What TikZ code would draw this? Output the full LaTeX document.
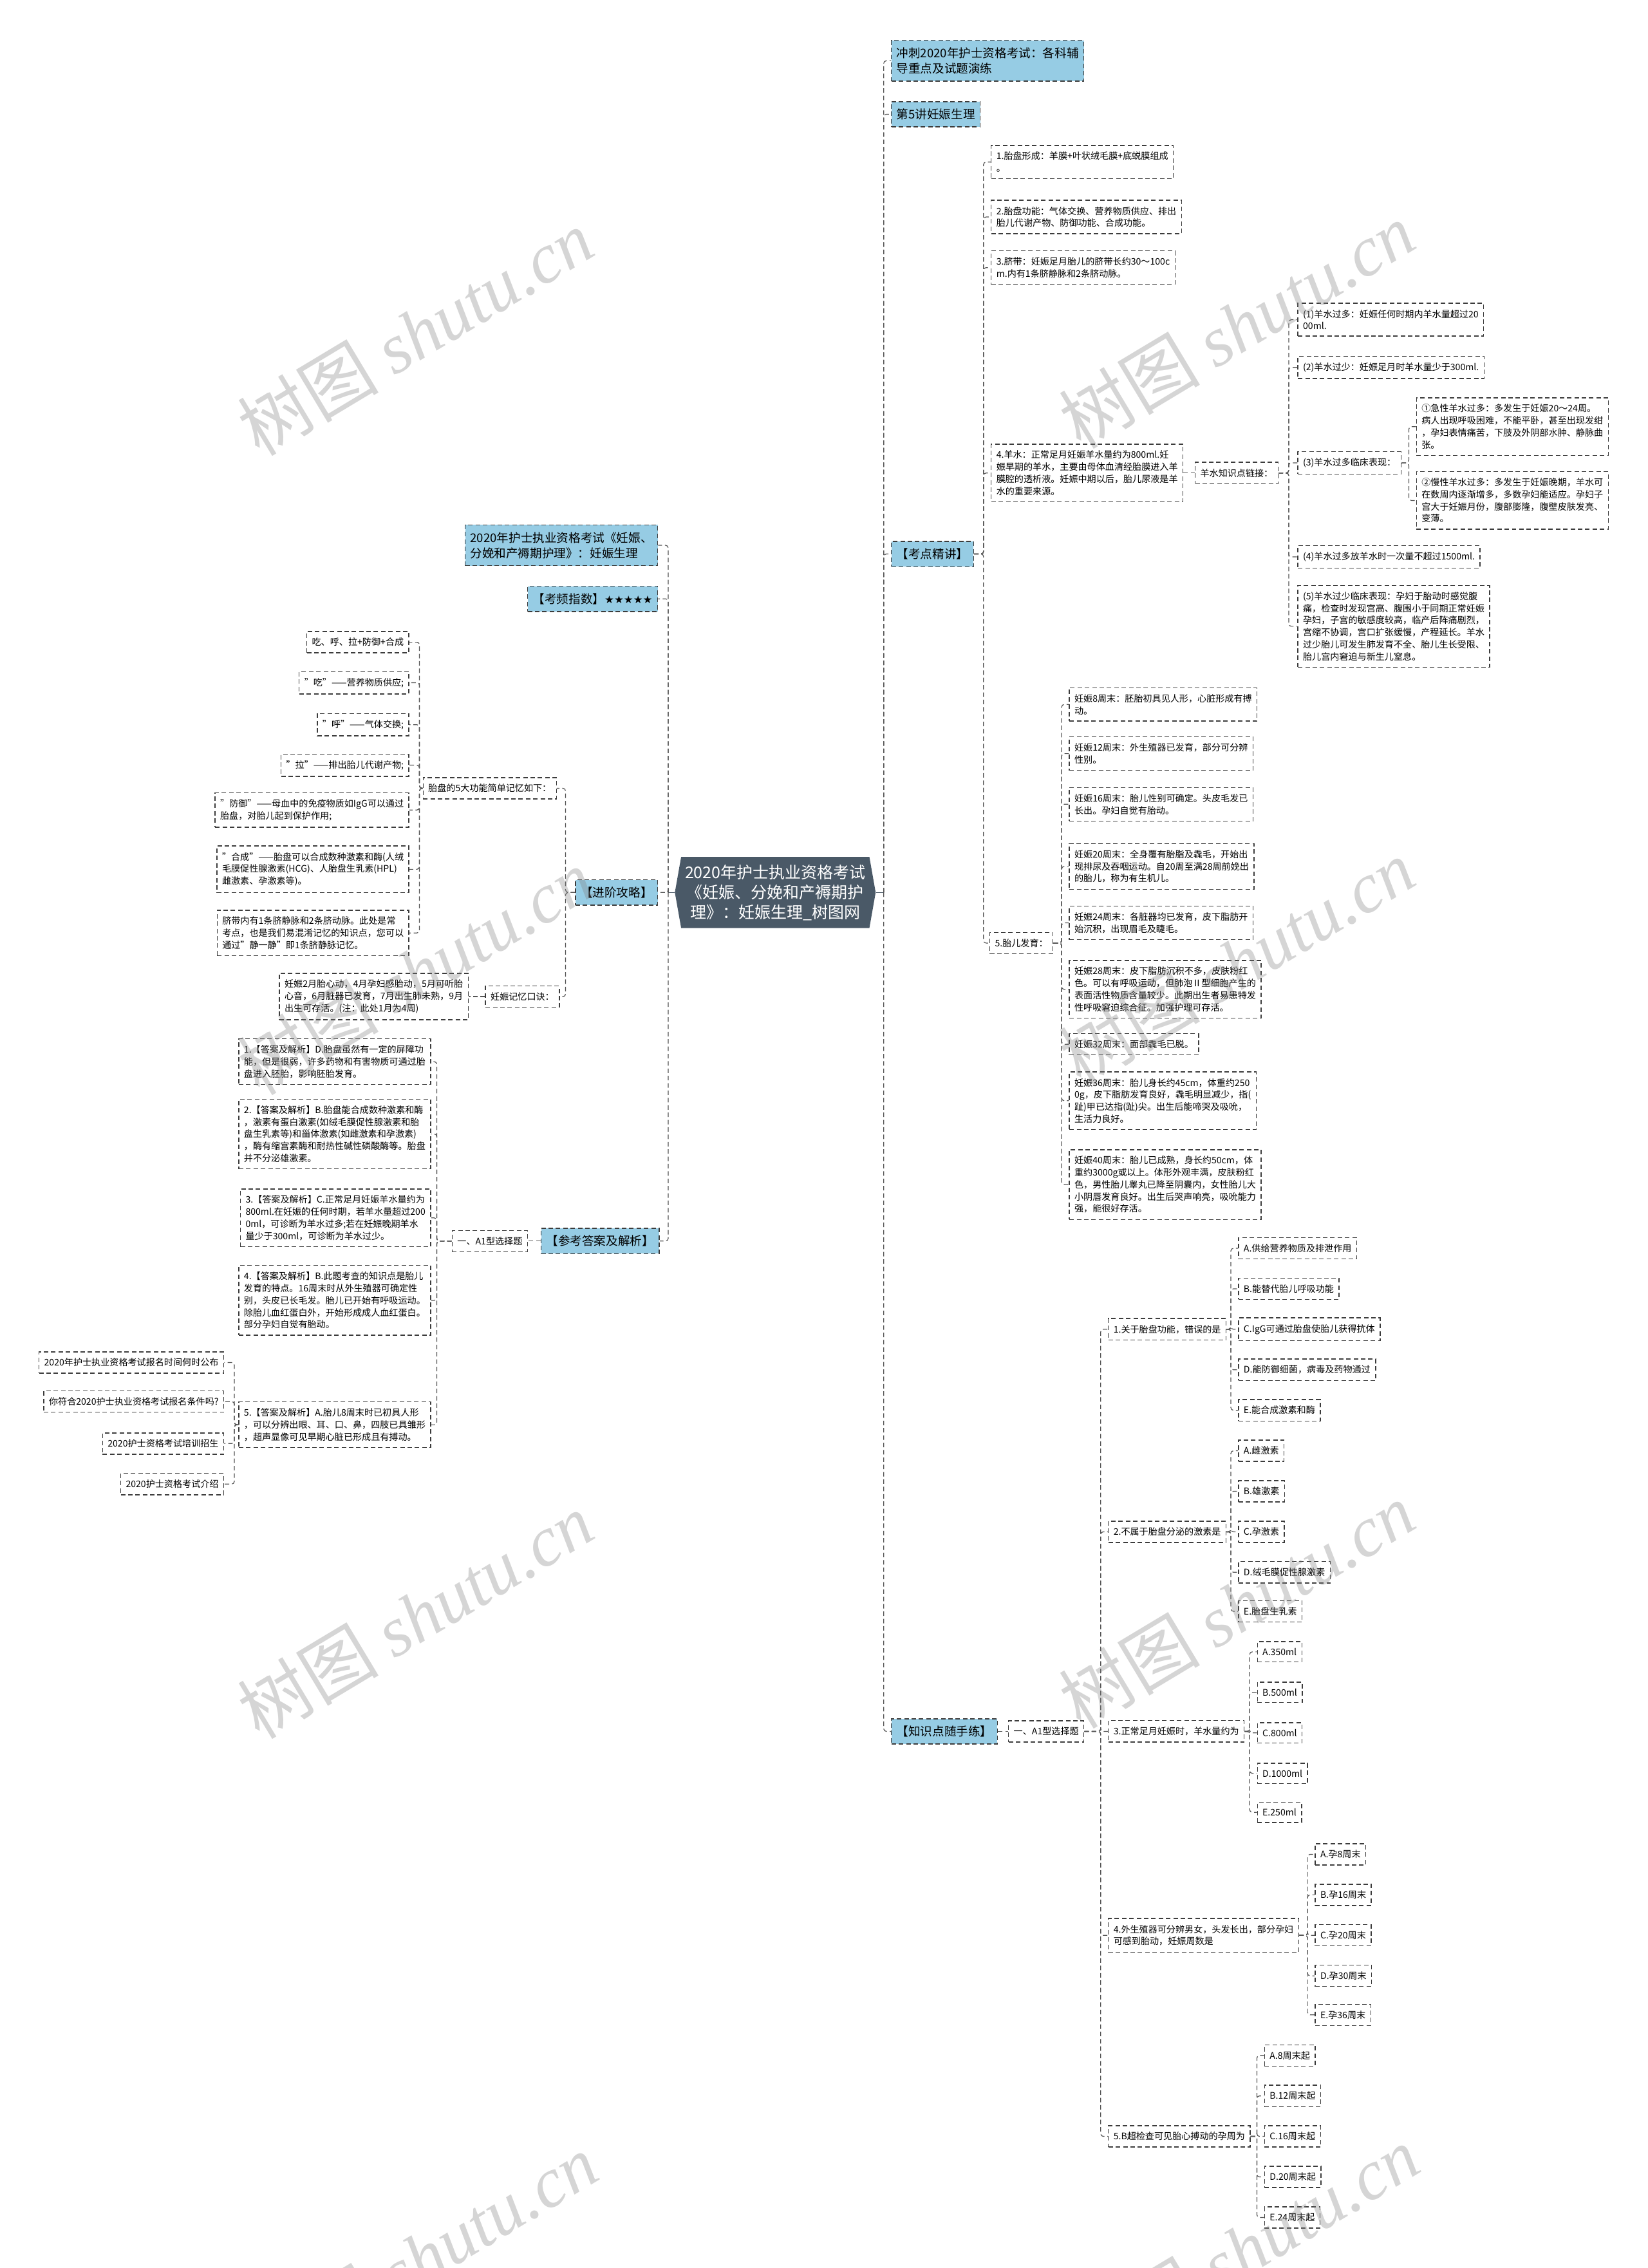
\documentclass[tikz,border=0pt]{standalone}
\usepackage{fontspec}
\setmainfont{Noto Sans CJK SC}
\newfontfamily\wmfont{Liberation Serif}
\newfontfamily\starfont{DejaVu Sans}
\usetikzlibrary{shapes.symbols}
\definecolor{bluefill}{RGB}{150,204,228}
\definecolor{darkc}{RGB}{74,89,103}
\definecolor{edgec}{RGB}{85,85,85}
\definecolor{boxc}{RGB}{60,60,60}
\newcommand\dq{\symbol{34}}
\tikzset{
  base/.style={draw=boxc, line width=0.7pt, dash pattern=on 3.5pt off 2.2pt, fill=white,
    inner xsep=4pt, inner ysep=5pt, align=left, font=\fontsize{7.05}{9.4}\selectfont},
  bl/.style={base, fill=bluefill, inner ysep=5.5pt, font=\fontsize{9.3}{12}\selectfont},
  conn/.style={draw=edgec, line width=0.6pt, dash pattern=on 3.5pt off 2.2pt, rounded corners=2pt},
  rt/.style={anchor=west}, lf/.style={anchor=east},
  wm/.style={rotate=31, text=gray, opacity=0.33, font=\fontsize{55}{58}\selectfont}
}
\begin{document}
\begin{tikzpicture}[x=1.1238pt, y=-1.1238pt]
\useasboundingbox (0,0) rectangle (1139,1568);
\fill[white] (0,0) rectangle (1139,1568);
% trunk coordinates
\coordinate (tR) at (611,0);
\coordinate (tL) at (462,0);
\coordinate (tK) at (680,0);
\coordinate (tY) at (891,0);
\coordinate (tY3) at (974,0);
\coordinate (tG) at (734,0);
\coordinate (tQ) at (761,0);
\coordinate (tQ1) at (851,0);
\coordinate (tQ2) at (851,0);
\coordinate (tQ3) at (864,0);
\coordinate (tQ4) at (904,0);
\coordinate (tQ5) at (869,0);
\coordinate (tP) at (391,0);
\coordinate (tP0) at (290,0);
\coordinate (tA) at (302,0);
\coordinate (tA5) at (162,0);

% center
\node[shape=signal, signal to=west and east, signal pointer angle=160, fill=darkc, text=white,
  font=\fontsize{12.5}{15.5}\selectfont, align=center, inner xsep=3pt, inner ysep=6pt]
  (C) at (536,617) {2020年护士执业资格考试\\《妊娠、分娩和产褥期护\\理》：妊娠生理\_树图网};

% ---------- right side ----------
\node[bl, rt] (R1) at (616,42) {冲刺2020年护士资格考试：各科辅\\导重点及试题演练};
\node[bl, rt] (R2) at (616,79) {第5讲妊娠生理};
\node[bl, rt] (R3) at (616,383) {【考点精讲】};
\node[bl, rt] (R4) at (616,1197) {【知识点随手练】};

\node[base, rt] (K1) at (685,112) {1.胎盘形成：羊膜+叶状绒毛膜+底蜕膜组成\\。};
\node[base, rt] (K2) at (685,150) {2.胎盘功能：气体交换、营养物质供应、排出\\胎儿代谢产物、防御功能、合成功能。};
\node[base, rt] (K3) at (685,185) {3.脐带：妊娠足月胎儿的脐带长约30～100c\\m.内有1条脐静脉和2条脐动脉。};
\node[base, rt] (K4) at (685,327) {4.羊水：正常足月妊娠羊水量约为800ml.妊\\娠早期的羊水，主要由母体血清经胎膜进入羊\\膜腔的透析液。妊娠中期以后，胎儿尿液是羊\\水的重要来源。};
\node[base, rt] (K5) at (684,652) {5.胎儿发育：};

\node[base, rt] (Y0) at (826,327) {羊水知识点链接：};
\node[base, rt] (Y1) at (897,221) {(1)羊水过多：妊娠任何时期内羊水量超过20\\00ml.};
\node[base, rt] (Y2) at (897,254) {(2)羊水过少：妊娠足月时羊水量少于300ml.};
\node[base, rt] (Y3) at (897,320) {(3)羊水过多临床表现：};
\node[base, rt] (Y3a) at (979,295) {①急性羊水过多：多发生于妊娠20～24周。\\病人出现呼吸困难，不能平卧，甚至出现发绀\\，孕妇表情痛苦，下肢及外阴部水肿、静脉曲\\张。};
\node[base, rt] (Y3b) at (979,346) {②慢性羊水过多：多发生于妊娠晚期，羊水可\\在数周内逐渐增多，多数孕妇能适应。孕妇子\\宫大于妊娠月份，腹部膨隆，腹壁皮肤发亮、\\变薄。};
\node[base, rt] (Y4) at (897,385) {(4)羊水过多放羊水时一次量不超过1500ml.};
\node[base, rt] (Y5) at (897,433) {(5)羊水过少临床表现：孕妇于胎动时感觉腹\\痛，检查时发现宫高、腹围小于同期正常妊娠\\孕妇，子宫的敏感度较高，临产后阵痛剧烈，\\宫缩不协调，宫口扩张缓慢，产程延长。羊水\\过少胎儿可发生肺发育不全、胎儿生长受限、\\胎儿宫内窘迫与新生儿窒息。};

\node[base, rt] (G1) at (739,487) {妊娠8周末：胚胎初具见人形，心脏形成有搏\\动。};
\node[base, rt] (G2) at (739,521) {妊娠12周末：外生殖器已发育，部分可分辨\\性别。};
\node[base, rt] (G3) at (739,556) {妊娠16周末：胎儿性别可确定。头皮毛发已\\长出。孕妇自觉有胎动。};
\node[base, rt] (G4) at (739,599) {妊娠20周末：全身覆有胎脂及毳毛，开始出\\现排尿及吞咽运动。自20周至满28周前娩出\\的胎儿，称为有生机儿。};
\node[base, rt] (G5) at (739,638) {妊娠24周末：各脏器均已发育，皮下脂肪开\\始沉积，出现眉毛及睫毛。};
\node[base, rt] (G6) at (739,684) {妊娠28周末：皮下脂肪沉积不多，皮肤粉红\\色。可以有呼吸运动，但肺泡Ⅱ型细胞产生的\\表面活性物质含量较少。此期出生者易患特发\\性呼吸窘迫综合征。加强护理可存活。};
\node[base, rt] (G7) at (739,722) {妊娠32周末：面部毳毛已脱。};
\node[base, rt] (G8) at (739,761) {妊娠36周末：胎儿身长约45cm，体重约250\\0g，皮下脂肪发育良好，毳毛明显减少，指(\\趾)甲已达指(趾)尖。出生后能啼哭及吸吮，\\生活力良好。};
\node[base, rt] (G9) at (739,819) {妊娠40周末：胎儿已成熟，身长约50cm，体\\重约3000g或以上。体形外观丰满，皮肤粉红\\色，男性胎儿睾丸已降至阴囊内，女性胎儿大\\小阴唇发育良好。出生后哭声响亮，吸吮能力\\强，能很好存活。};

\node[base, rt] (AR) at (697,1197) {一、A1型选择题};
\node[base, rt] (Q1) at (766,919) {1.关于胎盘功能，错误的是};
\node[base, rt] (Q2) at (766,1059) {2.不属于胎盘分泌的激素是};
\node[base, rt] (Q3) at (766,1197) {3.正常足月妊娠时，羊水量约为};
\node[base, rt] (Q4) at (766,1338) {4.外生殖器可分辨男女，头发长出，部分孕妇\\可感到胎动，妊娠周数是};
\node[base, rt] (Q5) at (766,1477) {5.B超检查可见胎心搏动的孕周为};

\node[base, rt] (Q1a) at (856,863) {A.供给营养物质及排泄作用};
\node[base, rt] (Q1b) at (856,891) {B.能替代胎儿呼吸功能};
\node[base, rt] (Q1c) at (856,919) {C.IgG可通过胎盘使胎儿获得抗体};
\node[base, rt] (Q1d) at (856,947) {D.能防御细菌，病毒及药物通过};
\node[base, rt] (Q1e) at (856,975) {E.能合成激素和酶};

\node[base, rt] (Q2a) at (856,1003) {A.雌激素};
\node[base, rt] (Q2b) at (856,1031) {B.雄激素};
\node[base, rt] (Q2c) at (856,1059) {C.孕激素};
\node[base, rt] (Q2d) at (856,1087) {D.绒毛膜促性腺激素};
\node[base, rt] (Q2e) at (856,1114) {E.胎盘生乳素};

\node[base, rt] (Q3a) at (869,1142) {A.350ml};
\node[base, rt] (Q3b) at (869,1170) {B.500ml};
\node[base, rt] (Q3c) at (869,1198) {C.800ml};
\node[base, rt] (Q3d) at (869,1226) {D.1000ml};
\node[base, rt] (Q3e) at (869,1253) {E.250ml};

\node[base, rt] (Q4a) at (909,1282) {A.孕8周末};
\node[base, rt] (Q4b) at (909,1310) {B.孕16周末};
\node[base, rt] (Q4c) at (909,1338) {C.孕20周末};
\node[base, rt] (Q4d) at (909,1366) {D.孕30周末};
\node[base, rt] (Q4e) at (909,1393) {E.孕36周末};

\node[base, rt] (Q5a) at (874,1421) {A.8周末起};
\node[base, rt] (Q5b) at (874,1449) {B.12周末起};
\node[base, rt] (Q5c) at (874,1477) {C.16周末起};
\node[base, rt] (Q5d) at (874,1505) {D.20周末起};
\node[base, rt] (Q5e) at (874,1533) {E.24周末起};

% ---------- left side ----------
\node[bl, lf] (L1) at (455,377) {2020年护士执业资格考试《妊娠、\\分娩和产褥期护理》：妊娠生理};
\node[bl, lf] (L2) at (455,414) {【考频指数】{\starfont\fontsize{8.3}{10}\selectfont ★★★★★}};
\node[bl, lf] (L3) at (455,617) {【进阶攻略】};
\node[bl, lf] (L4) at (456,858) {【参考答案及解析】};

\node[base, lf] (P0) at (385,545) {胎盘的5大功能简单记忆如下：};
\node[base, lf] (P1) at (283,444) {吃、呼、拉+防御+合成};
\node[base, lf] (P2) at (283,472) {\dq 吃\dq——营养物质供应;};
\node[base, lf] (P3) at (283,501) {\dq 呼\dq——气体交换;};
\node[base, lf] (P4) at (283,529) {\dq 拉\dq——排出胎儿代谢产物;};
\node[base, lf] (P5) at (283,560) {\dq 防御\dq——母血中的免疫物质如IgG可以通过\\胎盘，对胎儿起到保护作用;};
\node[base, lf] (P6) at (283,601) {\dq 合成\dq——胎盘可以合成数种激素和酶(人绒\\毛膜促性腺激素(HCG)、人胎盘生乳素(HPL)\\雌激素、孕激素等)。};
\node[base, lf] (P7) at (283,645) {脐带内有1条脐静脉和2条脐动脉。此处是常\\考点，也是我们易混淆记忆的知识点，您可以\\通过\dq 静一静\dq 即1条脐静脉记忆。};
\node[base, lf] (M0) at (387,689) {妊娠记忆口诀：};
\node[base, lf] (M1) at (324,689) {妊娠2月胎心动，4月孕妇感胎动，5月可听胎\\心音，6月脏器已发育，7月出生肺未熟，9月\\出生可存活。(注：此处1月为4周)};

\node[base, lf] (A0) at (365,858) {一、A1型选择题};
\node[base, lf] (A1) at (298,734) {1.【答案及解析】D.胎盘虽然有一定的屏障功\\能，但是很弱，许多药物和有害物质可通过胎\\盘进入胚胎，影响胚胎发育。};
\node[base, lf] (A2) at (298,784) {2.【答案及解析】B.胎盘能合成数种激素和酶\\，激素有蛋白激素(如绒毛膜促性腺激素和胎\\盘生乳素等)和甾体激素(如雌激素和孕激素)\\，酶有缩宫素酶和耐热性碱性磷酸酶等。胎盘\\并不分泌雄激素。};
\node[base, lf] (A3) at (298,842) {3.【答案及解析】C.正常足月妊娠羊水量约为\\800ml.在妊娠的任何时期，若羊水量超过200\\0ml，可诊断为羊水过多;若在妊娠晚期羊水\\量少于300ml，可诊断为羊水过少。};
\node[base, lf] (A4) at (298,899) {4.【答案及解析】B.此题考查的知识点是胎儿\\发育的特点。16周末时从外生殖器可确定性\\别，头皮已长毛发。胎儿已开始有呼吸运动。\\除胎儿血红蛋白外，开始形成成人血红蛋白。\\部分孕妇自觉有胎动。};
\node[base, lf] (A5) at (298,985) {5.【答案及解析】A.胎儿8周末时已初具人形\\，可以分辨出眼、耳、口、鼻，四肢已具雏形\\，超声显像可见早期心脏已形成且有搏动。};

\node[base, lf] (W1) at (155,942) {2020年护士执业资格考试报名时间何时公布};
\node[base, lf] (W2) at (155,969) {你符合2020护士执业资格考试报名条件吗?};
\node[base, lf] (W3) at (155,998) {2020护士资格考试培训招生};
\node[base, lf] (W4) at (155,1026) {2020护士资格考试介绍};

% ---------- connectors ----------
\draw[draw=darkc, line width=0.8pt] (C.west) -- (C.west -| tL);
\draw[draw=darkc, line width=0.8pt] (C.east) -- (C.east -| tR);
\foreach \c in {R1,R2,R3,R4} \draw[conn] (C.east -| tR) |- (\c.west);
\foreach \c in {L1,L2,L3,L4} \draw[conn] (C.west -| tL) |- (\c.east);

\foreach \c in {K1,K2,K3,K4,K5} \draw[conn] (R3.east) -- (R3.east -| tK) |- (\c.west);
\draw[conn] (K4.east) -- (Y0.west);
\foreach \c in {Y1,Y2,Y3,Y4,Y5} \draw[conn] (Y0.east) -- (Y0.east -| tY) |- (\c.west);
\foreach \c in {Y3a,Y3b} \draw[conn] (Y3.east) -- (Y3.east -| tY3) |- (\c.west);
\foreach \c in {G1,G2,G3,G4,G5,G6,G7,G8,G9} \draw[conn] (K5.east) -- (K5.east -| tG) |- (\c.west);

\draw[conn] (R4.east) -- (AR.west);
\foreach \c in {Q1,Q2,Q3,Q4,Q5} \draw[conn] (AR.east) -- (AR.east -| tQ) |- (\c.west);
\foreach \q in {1,2,3,4,5} {
  \foreach \o in {a,b,c,d,e} \draw[conn] (Q\q.east) -- (Q\q.east -| tQ\q) |- (Q\q\o.west);
}

\foreach \c in {P0,M0} \draw[conn] (L3.west) -- (L3.west -| tP) |- (\c.east);
\foreach \c in {P1,P2,P3,P4,P5,P6,P7} \draw[conn] (P0.west) -- (P0.west -| tP0) |- (\c.east);
\draw[conn] (M0.west) -- (M1.east);
\draw[conn] (L4.west) -- (A0.east);
\foreach \c in {A1,A2,A3,A4,A5} \draw[conn] (A0.west) -- (A0.west -| tA) |- (\c.east);
\foreach \c in {W1,W2,W3,W4} \draw[conn] (A5.west) -- (A5.west -| tA5) |- (\c.east);

% ---------- watermarks ----------
\foreach \p in {(287,230),(855,225),(287,672),(855,665),(287,1117),(855,1110),(290,1560),(858,1555)}
  \node[wm] at \p {树图 {\wmfont\itshape shutu.cn}};
\end{tikzpicture}
\end{document}
